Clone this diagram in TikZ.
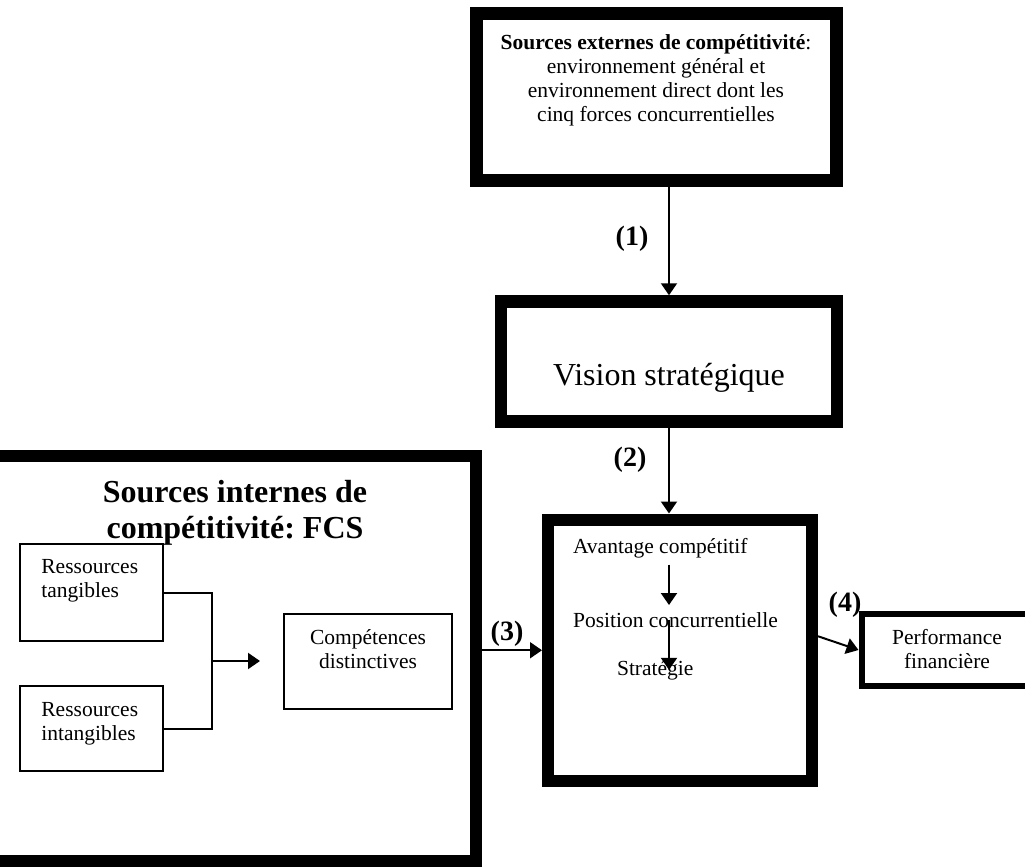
\documentclass[tikz,border=0pt]{standalone}
\usepackage{fontspec}
\setmainfont{Liberation Serif}
\usetikzlibrary{arrows.meta,positioning}
\frenchspacing

\begin{document}
\begin{tikzpicture}[
  x=0.5pt,y=-0.5pt,
  heavy/.style={draw,inner sep=0pt,line width=6pt},
  thinbox/.style={draw,inner sep=0pt,line width=1pt},
  txt/.style={font=\fontsize{10.75}{12}\selectfont,align=center},
  big/.style={font=\fontsize{16}{18}\selectfont,align=center},
  lab/.style={font=\fontsize{14}{16}\selectfont\bfseries},
  conn/.style={line width=1pt},
  arr/.style={conn,-{Triangle[length=6pt,width=8pt]}}
]
\path[use as bounding box,fill=white] (0,0) rectangle (1025,867);
\clip (0,0) rectangle (1025,867);

% frames
\node[heavy,line width=6.5pt,minimum width=180pt,minimum height=83.5pt] (ext) at (656.5,97) {};
\node[heavy,line width=6.25pt,minimum width=168pt,minimum height=60pt] (vision) at (669,361.5) {};
\node[heavy,minimum width=243pt,minimum height=202.5pt] (fcs) at (233,658.5) {};
\node[heavy,minimum width=132pt,minimum height=130.75pt] (avant) at (680,650.25) {};
\node[heavy,line width=3pt,minimum width=85.5pt,minimum height=36pt] (perf) at (947,650) {};
\node[thinbox,minimum width=71.5pt,minimum height=48.5pt] (tang) at (91.5,592.5) {};
\node[thinbox,minimum width=71.5pt,minimum height=42.5pt] (intang) at (91.5,728.5) {};
\node[thinbox,minimum width=84pt,minimum height=47.5pt] (comp) at (368,661.5) {};

% texts (base = last line)
\node[txt,anchor=base] (exttxt) at (656,121) {\textbf{Sources externes de compétitivité}:\\
  environnement général et\\ environnement direct dont les\\ cinq forces concurrentielles};
\node[big,anchor=base] (visiontxt) at (669,385) {Vision stratégique};
\node[big,anchor=base,font=\fontsize{16}{18}\selectfont\bfseries] (fcstxt) at (235,538)
  {Sources internes de\\ compétitivité: FCS};
\node[txt,align=left,anchor=base west,inner sep=0pt] (tangtxt) at (41,597) {Ressources\\ tangibles};
\node[txt,align=left,anchor=base west,inner sep=0pt] (intangtxt) at (41,740) {Ressources\\ intangibles};
\node[txt,anchor=base] (comptxt) at (368,668) {Compétences\\ distinctives};
\node[txt,anchor=base west] (avtxt) at (566,553) {Avantage compétitif};
\node[txt,anchor=base west] (postxt) at (566,627) {Position concurrentielle};
\node[txt,anchor=base west] (strattxt) at (610,675) {Stratégie};
\node[txt,anchor=base] (perftxt) at (947,668) {Performance\\ financière};

% labels
\node[lab] (lab1) at (632,239) {(1)};
\node[lab] (lab2) at (630,460) {(2)};
\node[lab] (lab3) at (507,634) {(3)};
\node[lab] (lab4) at (845,605) {(4)};

% connectors
\draw[arr] (ext.south -| vision.north) -- (vision.north);
\draw[arr] (vision.south) -- (vision.south |- avant.north);
\draw[arr] (fcs.east |- avant.west) -- (avant.west);
\draw[arr] ([yshift=7pt]avant.east) -- (perf.west);
\draw[arr] (avtxt.south -| vision.south) -- (postxt.north -| vision.south);
\draw[arr] (postxt.center -| vision.south) -- (strattxt.center -| vision.south);

\coordinate (join) at (212,661);
\coordinate (joinend) at (260,661);
\draw[conn] (tang.east) -| (join);
\draw[conn] (intang.east) -| (join);
\draw[arr] (join) -- (joinend);
\end{tikzpicture}
\end{document}
